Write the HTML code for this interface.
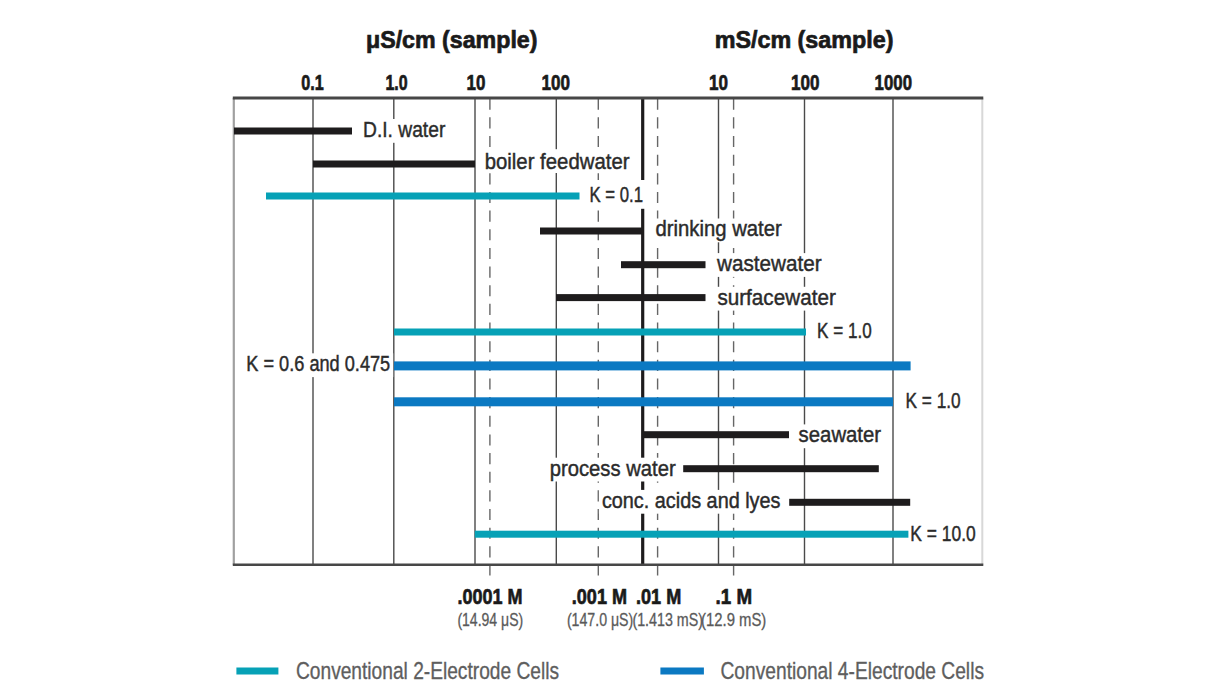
<!DOCTYPE html>
<html><head><meta charset="utf-8"><style>
html,body{margin:0;padding:0;background:#fff;width:1216px;height:684px;overflow:hidden}
svg{display:block}
text{font-family:"Liberation Sans",sans-serif}
.lb{font-size:22.5px;fill:#2b2b2b;stroke:#2b2b2b;stroke-width:0.45px}
.hd{font-weight:bold;fill:#1a1a1a;stroke:#1a1a1a;stroke-width:0.7px}
.sb{font-size:17.5px;fill:#5a5a5a;stroke:#5a5a5a;stroke-width:0.3px}
.lg{font-size:24.5px;fill:#5e5e5e;stroke:#5e5e5e;stroke-width:0.35px}
</style></head><body>
<svg width="1216" height="684" viewBox="0 0 1216 684">
<line x1="313" y1="98" x2="313" y2="564.8" stroke="#4a4a4a" stroke-width="1.4"/>
<line x1="393.8" y1="98" x2="393.8" y2="564.8" stroke="#4a4a4a" stroke-width="1.4"/>
<line x1="475" y1="98" x2="475" y2="564.8" stroke="#4a4a4a" stroke-width="1.4"/>
<line x1="556.3" y1="98" x2="556.3" y2="564.8" stroke="#4a4a4a" stroke-width="1.4"/>
<line x1="718.5" y1="98" x2="718.5" y2="564.8" stroke="#4a4a4a" stroke-width="1.4"/>
<line x1="804.5" y1="98" x2="804.5" y2="564.8" stroke="#4a4a4a" stroke-width="1.4"/>
<line x1="893" y1="98" x2="893" y2="564.8" stroke="#4a4a4a" stroke-width="1.4"/>
<line x1="489.9" y1="98.7" x2="489.9" y2="575.5" stroke="#666" stroke-width="1.4" stroke-dasharray="11.1 7.55"/>
<line x1="598.3" y1="98.7" x2="598.3" y2="575.5" stroke="#666" stroke-width="1.4" stroke-dasharray="11.1 7.55"/>
<line x1="657.6" y1="98.7" x2="657.6" y2="575.5" stroke="#666" stroke-width="1.4" stroke-dasharray="11.1 7.55"/>
<line x1="733.6" y1="98.7" x2="733.6" y2="575.5" stroke="#666" stroke-width="1.4" stroke-dasharray="11.1 7.55"/>
<line x1="642.7" y1="98" x2="642.7" y2="564.8" stroke="#1e1c1d" stroke-width="3.2"/>
<line x1="233.8" y1="98" x2="233.8" y2="564.8" stroke="#a0a0a0" stroke-width="2.2"/>
<line x1="982.3" y1="98" x2="982.3" y2="564.8" stroke="#d8d8d8" stroke-width="2"/>
<line x1="232.8" y1="98" x2="983.3" y2="98" stroke="#474747" stroke-width="2.8"/>
<line x1="232.8" y1="564.8" x2="983.3" y2="564.8" stroke="#474747" stroke-width="2.4"/>
<rect x="360" y="119.00000000000001" width="88.30000000000001" height="23.799999999999997" fill="#fff"/>
<rect x="481.7" y="149.2" width="150.8" height="23.80000000000001" fill="#fff"/>
<rect x="586.5" y="180" width="59.5" height="28.80000000000001" fill="#fff"/>
<rect x="652.5" y="218.5" width="132.29999999999995" height="23.80000000000001" fill="#fff"/>
<rect x="714.1" y="253.09999999999997" width="110.60000000000002" height="23.80000000000001" fill="#fff"/>
<rect x="714.4" y="286.8" width="124.39999999999998" height="23.80000000000001" fill="#fff"/>
<rect x="814.1" y="320.2" width="60.60000000000002" height="23.80000000000001" fill="#fff"/>
<rect x="243.3" y="353.3" width="149.89999999999998" height="23.80000000000001" fill="#fff"/>
<rect x="902.5" y="389.8" width="61.10000000000002" height="23.80000000000001" fill="#fff"/>
<rect x="795.6" y="424.4" width="88.5" height="23.80000000000001" fill="#fff"/>
<rect x="546.7" y="457.7" width="132.0" height="23.80000000000001" fill="#fff"/>
<rect x="598.9" y="489.9" width="184.60000000000002" height="23.800000000000068" fill="#fff"/>
<rect x="907.3" y="523.2" width="71.40000000000009" height="23.799999999999955" fill="#fff"/>
<rect x="234" y="127.5" width="118" height="7" fill="#1e1c1d"/>
<rect x="313" y="160.5" width="162" height="7" fill="#1e1c1d"/>
<rect x="266" y="192.5" width="313.5" height="7" fill="#06a1b6"/>
<rect x="540" y="227.5" width="102.5" height="7" fill="#1e1c1d"/>
<rect x="621" y="261.2" width="84.5" height="7" fill="#1e1c1d"/>
<rect x="556" y="294.1" width="149.5" height="7" fill="#1e1c1d"/>
<rect x="394" y="328.5" width="412" height="7" fill="#06a1b6"/>
<rect x="394" y="361.4" width="516.6" height="9" fill="#0b79c2"/>
<rect x="394" y="397.3" width="499" height="9" fill="#0b79c2"/>
<rect x="643" y="431.2" width="146" height="7" fill="#1e1c1d"/>
<rect x="683.2" y="465.2" width="195.5999999999999" height="7" fill="#1e1c1d"/>
<rect x="789.2" y="498.8" width="121.0" height="7" fill="#1e1c1d"/>
<rect x="474.8" y="530.7" width="433.59999999999997" height="7" fill="#06a1b6"/>
<text x="363" y="136.8" textLength="82.30000000000001" lengthAdjust="spacingAndGlyphs" class="lb">D.I. water</text>
<text x="484.7" y="169.2" textLength="144.8" lengthAdjust="spacingAndGlyphs" class="lb">boiler feedwater</text>
<text x="589.5" y="202" textLength="53.5" lengthAdjust="spacingAndGlyphs" class="lb">K = 0.1</text>
<text x="655.5" y="236.3" textLength="126.29999999999995" lengthAdjust="spacingAndGlyphs" class="lb">drinking water</text>
<text x="717.1" y="270.9" textLength="104.60000000000002" lengthAdjust="spacingAndGlyphs" class="lb">wastewater</text>
<text x="717.4" y="304.6" textLength="118.39999999999998" lengthAdjust="spacingAndGlyphs" class="lb">surfacewater</text>
<text x="817.1" y="338" textLength="54.60000000000002" lengthAdjust="spacingAndGlyphs" class="lb">K = 1.0</text>
<text x="246.3" y="371.1" textLength="143.89999999999998" lengthAdjust="spacingAndGlyphs" class="lb">K = 0.6 and 0.475</text>
<text x="905.5" y="407.6" textLength="55.10000000000002" lengthAdjust="spacingAndGlyphs" class="lb">K = 1.0</text>
<text x="798.6" y="442.2" textLength="82.5" lengthAdjust="spacingAndGlyphs" class="lb">seawater</text>
<text x="549.7" y="475.5" textLength="126.0" lengthAdjust="spacingAndGlyphs" class="lb">process water</text>
<text x="601.9" y="507.7" textLength="178.60000000000002" lengthAdjust="spacingAndGlyphs" class="lb">conc. acids and lyes</text>
<text x="910.3" y="541" textLength="65.40000000000009" lengthAdjust="spacingAndGlyphs" class="lb">K = 10.0</text>
<text x="366" y="48" textLength="171.5" lengthAdjust="spacingAndGlyphs" class="hd" font-size="24">μS/cm (sample)</text>
<text x="714.7" y="48" textLength="178.79999999999995" lengthAdjust="spacingAndGlyphs" class="hd" font-size="24">mS/cm (sample)</text>
<text x="301.2" y="89.6" textLength="22.5" lengthAdjust="spacingAndGlyphs" class="hd" font-size="22">0.1</text>
<text x="385.4" y="89.6" textLength="22.200000000000045" lengthAdjust="spacingAndGlyphs" class="hd" font-size="22">1.0</text>
<text x="466.6" y="89.6" textLength="18.899999999999977" lengthAdjust="spacingAndGlyphs" class="hd" font-size="22">10</text>
<text x="541.4" y="89.6" textLength="28.5" lengthAdjust="spacingAndGlyphs" class="hd" font-size="22">100</text>
<text x="709" y="89.6" textLength="19" lengthAdjust="spacingAndGlyphs" class="hd" font-size="22">10</text>
<text x="791" y="89.6" textLength="28.5" lengthAdjust="spacingAndGlyphs" class="hd" font-size="22">100</text>
<text x="874.6" y="89.6" textLength="37.39999999999998" lengthAdjust="spacingAndGlyphs" class="hd" font-size="22">1000</text>
<text x="457.4" y="604.3" textLength="65.0" lengthAdjust="spacingAndGlyphs" class="hd" font-size="22.6">.0001 M</text>
<text x="571.8" y="604.3" textLength="55.200000000000045" lengthAdjust="spacingAndGlyphs" class="hd" font-size="22.6">.001 M</text>
<text x="636" y="604.3" textLength="45.200000000000045" lengthAdjust="spacingAndGlyphs" class="hd" font-size="22.6">.01 M</text>
<text x="715.6" y="604.3" textLength="36.5" lengthAdjust="spacingAndGlyphs" class="hd" font-size="22.6">.1 M</text>
<text x="457.4" y="626.3" textLength="65.80000000000007" lengthAdjust="spacingAndGlyphs" class="sb">(14.94 μS)</text>
<text x="566.9" y="626.3" textLength="66.39999999999998" lengthAdjust="spacingAndGlyphs" class="sb">(147.0 μS)</text>
<text x="632.4" y="626.3" textLength="70.60000000000002" lengthAdjust="spacingAndGlyphs" class="sb">(1.413 mS)</text>
<text x="701" y="626.3" textLength="65.29999999999995" lengthAdjust="spacingAndGlyphs" class="sb">(12.9 mS)</text>
<rect x="236.4" y="667.5" width="42" height="7" fill="#06a1b6"/>
<rect x="660.4" y="667.5" width="43.5" height="7" fill="#0b79c2"/>
<text x="296" y="679.3" textLength="263" lengthAdjust="spacingAndGlyphs" class="lg">Conventional 2-Electrode Cells</text>
<text x="720.5" y="679.3" textLength="263.5" lengthAdjust="spacingAndGlyphs" class="lg">Conventional 4-Electrode Cells</text>
</svg>
</body></html>
